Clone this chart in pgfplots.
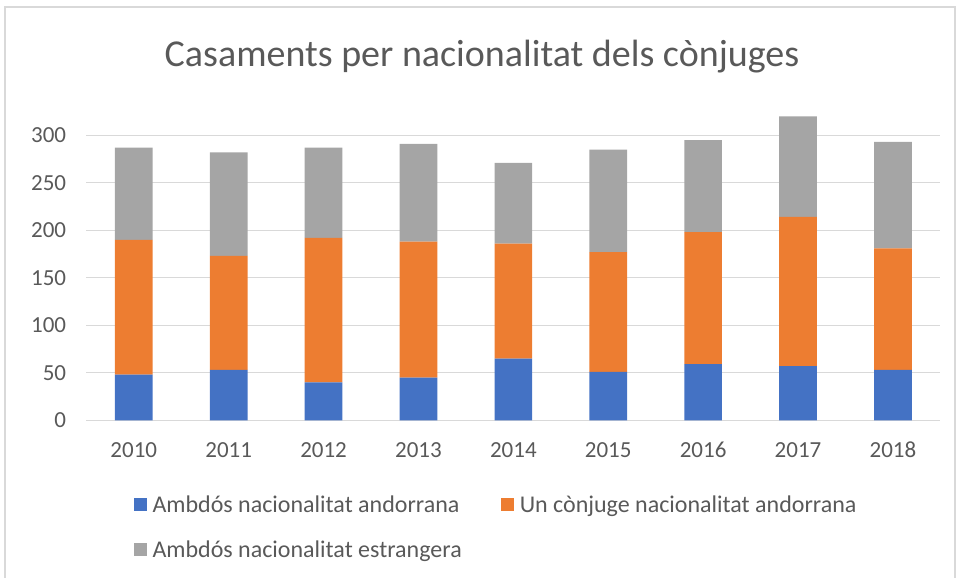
\documentclass[border=0pt]{standalone}
\usepackage{fontspec}
\setmainfont{Carlito}
\usepackage{pgfplots}
\pgfplotsset{compat=1.18}
\definecolor{cblue}{HTML}{4472C4}
\definecolor{corange}{HTML}{ED7D31}
\definecolor{cgray}{HTML}{A5A5A5}
\definecolor{ctext}{HTML}{595959}
\definecolor{cgrid}{HTML}{D9D9D9}
\begin{document}
\begin{tikzpicture}[x=1pt,y=1pt]
\useasboundingbox (0,0) rectangle (959,578);
\draw[cgrid, line width=1.5pt] (5,0) -- (5,571) -- (955,571) -- (955,0);
\node[anchor=base, text=ctext, font=\fontsize{38}{44}\selectfont, inner sep=0pt] at (482,511) {Casaments per nacionalitat dels cònjuges};
\begin{axis}[
  at={(91,166)}, anchor=south west,
  scale only axis, width=854pt, height=332.5pt,
  ybar stacked, bar width=37.7pt,
  xmin=-0.5, xmax=8.5, ymin=0, ymax=350,
  xtick={0,1,2,3,4,5,6,7,8},
  xticklabels={2010,2011,2012,2013,2014,2015,2016,2017,2018},
  ytick={0,50,100,150,200,250,300},
  ymajorgrids, grid style={cgrid, line width=1.3pt},
  axis line style={draw=none}, major tick length=0pt,
  /pgf/number format/assume math mode=true,
  ticklabel style={font=\fontsize{23}{27}\selectfont, text=ctext},
  yticklabel style={inner sep=0pt, xshift=-20pt},
  xticklabel style={inner sep=0pt, anchor=north, text height=15pt, text depth=0pt, yshift=-22pt},
  legend columns=2,
  legend cell align=left,
  legend style={at={(axis description cs:0.055,-0.22)}, anchor=north west,
    draw=none, fill=none, font=\fontsize{24}{28}\selectfont, text=ctext,
    inner sep=0pt, row sep=23pt,
    nodes={inner sep=2pt},
    /tikz/every odd column/.append style={column sep=4pt},
    /tikz/every even column/.append style={column sep=37pt}},
  legend image code/.code={\fill[#1] (0pt,-6.5pt) rectangle (13pt,6.5pt);},
]
\addplot[fill=cblue, draw=none] coordinates {(0,48) (1,53) (2,40) (3,45) (4,65) (5,51) (6,59) (7,57) (8,53)};
\addplot[fill=corange, draw=none] coordinates {(0,142) (1,120) (2,152) (3,143) (4,121) (5,126) (6,139) (7,157) (8,128)};
\addplot[fill=cgray, draw=none] coordinates {(0,97) (1,109) (2,95) (3,103) (4,85) (5,108) (6,97) (7,106) (8,112)};
\legend{Ambdós nacionalitat andorrana, Un cònjuge nacionalitat andorrana, Ambdós nacionalitat estrangera}
\end{axis}
\end{tikzpicture}
\end{document}
